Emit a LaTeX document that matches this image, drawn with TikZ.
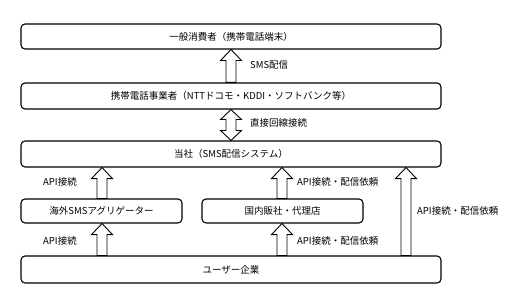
\documentclass[tikz,border=0pt]{standalone}
\usepackage{fontspec}
\setmainfont{Noto Sans CJK JP}
\usetikzlibrary{calc}
\tikzset{
  box/.style={draw=black, line width=1.1pt, rounded corners=4pt, fill=white, inner sep=0pt, font=\fontsize{9.5}{11}\selectfont},
  lbl/.style={font=\fontsize{9.5}{11}\selectfont, inner sep=0pt, anchor=west},
  barr/.style={draw=black, line width=0.9pt, fill=white, line join=miter},
}
% single block arrow upward: #1 = x (pt), #2 = lower node anchor, #3 = upper node anchor
\newcommand\blkup[3]{%
  \draw[barr] let \p1=(#2), \p2=(#3) in
    (#1pt-5pt,\y1) -- (#1pt-5pt,\y2-11pt) -- (#1pt-10.5pt,\y2-11pt) -- (#1pt,\y2) --
    (#1pt+10.5pt,\y2-11pt) -- (#1pt+5pt,\y2-11pt) -- (#1pt+5pt,\y1) -- cycle;}
\newcommand\blkboth[3]{%
  \draw[barr] let \p1=(#2), \p2=(#3) in
    (#1pt,\y1) -- (#1pt-10.5pt,\y1+10pt) -- (#1pt-5pt,\y1+10pt) -- (#1pt-5pt,\y2-10pt) --
    (#1pt-10.5pt,\y2-10pt) -- (#1pt,\y2) -- (#1pt+10.5pt,\y2-10pt) -- (#1pt+5pt,\y2-10pt) --
    (#1pt+5pt,\y1+10pt) -- (#1pt+10.5pt,\y1+10pt) -- cycle;}
\begin{document}
\begin{tikzpicture}[x=1pt,y=-1pt]
\useasboundingbox[fill=white] (0,0) rectangle (528,305);
\node[box, minimum width=420pt, minimum height=25pt] (b1) at (231,36.5) {一般消費者（携帯電話端末）};
\node[box, minimum width=420pt, minimum height=26pt] (b2) at (231,96) {携帯電話事業者（NTTドコモ・KDDI・ソフトバンク等）};
\node[box, minimum width=420pt, minimum height=26pt] (b3) at (231,154) {当社（SMS配信システム）};
\node[box, minimum width=161pt, minimum height=24pt] (b4) at (101.5,211) {海外SMSアグリゲーター};
\node[box, minimum width=161pt, minimum height=24pt] (b5) at (282.5,211) {国内販社・代理店};
\node[box, minimum width=420pt, minimum height=27pt] (b6) at (231,269.5) {ユーザー企業};

\blkup{231}{b2.north}{b1.south}
\blkboth{231}{b3.north}{b2.south}
\blkup{102}{b4.north}{b3.south}
\blkup{282}{b5.north}{b3.south}
\blkup{406}{b6.north}{b3.south}
\blkup{102}{b6.north}{b4.south}
\blkup{282}{b6.north}{b5.south}

\node[lbl] (l1) at (250,65) {SMS配信};
\node[lbl] (l2) at (250,123) {直接回線接続};
\node[lbl] (l3) at (43,182) {API接続};
\node[lbl] (l4) at (297,182) {API接続・配信依頼};
\node[lbl] (l5) at (417,211) {API接続・配信依頼};
\node[lbl] (l6) at (43,241) {API接続};
\node[lbl] (l7) at (297,241) {API接続・配信依頼};
\end{tikzpicture}
\end{document}
